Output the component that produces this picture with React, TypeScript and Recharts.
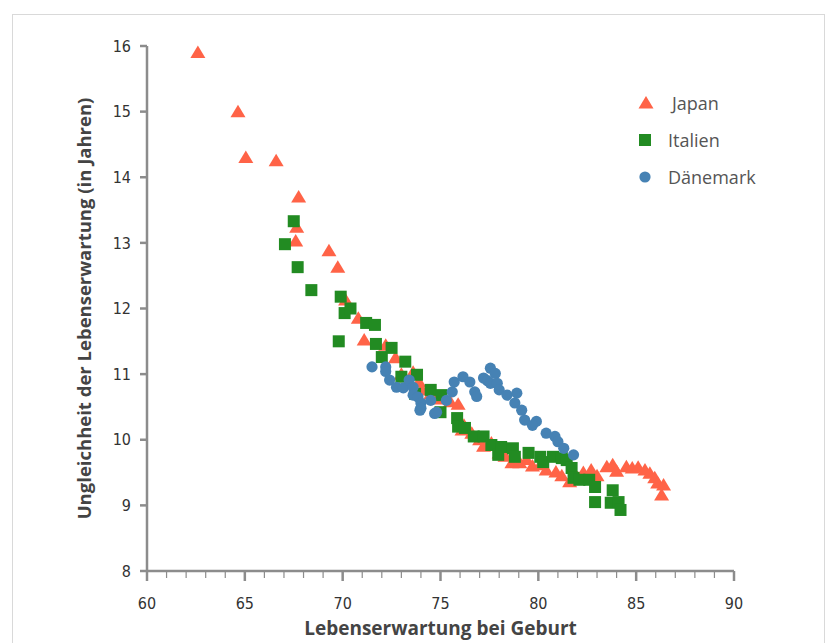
import React from "react";
import { ScatterChart, Scatter, XAxis, YAxis } from "recharts";

// Lebenserwartung (x) vs. Ungleichheit der Lebenserwartung (y)
const japan: [number, number][] = [
  [62.6, 15.9], [64.65, 15.0], [65.05, 14.3], [66.6, 14.25], [67.6, 13.03], [67.65, 13.24],
  [67.75, 13.7], [69.3, 12.88], [69.75, 12.63], [70.15, 12.13], [70.8, 11.85], [71.1, 11.52],
  [72.2, 11.44], [72.7, 11.25], [73.0, 11.0], [73.6, 11.03], [73.9, 10.88], [74.05, 10.76],
  [74.5, 10.7], [75.0, 10.62], [75.5, 10.58], [75.9, 10.54], [76.1, 10.15], [76.2, 10.22],
  [76.6, 10.1], [77.0, 10.0], [77.2, 9.9], [77.6, 9.95], [78.0, 9.8], [78.3, 9.75],
  [78.65, 9.65], [79.05, 9.65], [79.4, 9.7], [79.7, 9.6], [80.1, 9.62], [80.4, 9.54],
  [80.9, 9.51], [81.2, 9.45], [81.6, 9.36], [82.0, 9.42], [82.3, 9.5], [82.7, 9.54],
  [83.0, 9.45], [83.5, 9.59], [83.8, 9.62], [84.0, 9.52], [84.5, 9.59], [84.8, 9.57],
  [85.1, 9.58], [85.45, 9.54], [85.7, 9.49], [85.95, 9.42], [86.1, 9.34], [86.4, 9.31],
  [86.3, 9.16],
];

const italien: [number, number][] = [
  [67.05, 12.98], [67.5, 13.33], [67.7, 12.63], [68.4, 12.28], [69.8, 11.5], [69.9, 12.18],
  [70.1, 11.93], [70.4, 12.0], [71.2, 11.78], [71.65, 11.75], [71.7, 11.46], [72.0, 11.26],
  [72.5, 11.4], [73.0, 10.96], [73.2, 11.19], [73.7, 10.7], [73.8, 10.99], [74.5, 10.76],
  [75.05, 10.68], [75.0, 10.42], [75.85, 10.33], [75.9, 10.2], [76.25, 10.18], [76.7, 10.05],
  [77.2, 10.05], [77.6, 9.92], [77.95, 9.77], [78.1, 9.89], [78.7, 9.87], [78.8, 9.74],
  [79.5, 9.8], [80.1, 9.74], [80.25, 9.66], [80.75, 9.74], [81.2, 9.72], [81.45, 9.69],
  [81.7, 9.57], [81.8, 9.42], [82.1, 9.39], [82.6, 9.39], [82.9, 9.28], [82.9, 9.05],
  [83.7, 9.04], [83.8, 9.23], [84.1, 9.05], [84.2, 8.93],
];

const daenemark: [number, number][] = [
  [71.5, 11.11], [72.2, 11.11], [72.2, 11.04], [72.4, 10.91], [72.75, 10.8], [73.1, 10.79],
  [73.4, 10.91], [73.6, 10.8], [73.6, 10.68], [73.85, 10.65], [74.0, 10.56], [73.95, 10.45],
  [74.0, 10.48], [74.5, 10.6], [74.7, 10.4], [74.8, 10.42], [75.3, 10.6], [75.6, 10.73],
  [75.7, 10.88], [76.15, 10.96], [76.5, 10.88], [76.75, 10.73], [76.85, 10.66], [77.2, 10.94],
  [77.4, 10.9], [77.55, 11.09], [77.8, 11.01], [77.55, 10.86], [77.9, 10.86], [78.0, 10.76],
  [78.4, 10.68], [78.9, 10.71], [78.8, 10.56], [79.15, 10.45], [79.3, 10.3], [79.9, 10.28],
  [79.7, 10.22], [80.4, 10.1], [80.85, 10.05], [81.0, 9.97], [81.3, 9.87], [81.8, 9.77],
];

const xTicks = Array.from({ length: 31 }, (_, i) => 60 + i);
const yTicks = [8, 9, 10, 11, 12, 13, 14, 15, 16];

const COLORS = { japan: "#FF6347", italien: "#228B22", daenemark: "#4682B4" };
const AXIS = "#8c8c8c";
const TICK_FONT = "'DejaVu Sans Condensed', 'Liberation Sans Narrow', sans-serif";
const TITLE_FONT = "'Open Sans', 'Noto Sans', sans-serif";

const toPoints = (arr: [number, number][]) => arr.map(([x, y]) => ({ x, y }));

const Triangle = (p: any) => (
  <path
    d={`M${p.cx},${p.cy - 7}L${p.cx + 7.5},${p.cy + 5.5}L${p.cx - 7.5},${p.cy + 5.5}Z`}
    fill={COLORS.japan}
  />
);
const Square = (p: any) => <rect x={p.cx - 6} y={p.cy - 6} width={12} height={12} fill={COLORS.italien} />;
const Dot = (p: any) => <circle cx={p.cx} cy={p.cy} r={5.6} fill={COLORS.daenemark} />;

const XTick = (props: any) => {
  const { x, y, payload } = props;
  const major = payload.value % 5 === 0;
  return (
    <g>
      <line x1={x} x2={x} y1={y} y2={y + (major ? 10 : 7)} stroke={AXIS} strokeWidth={major ? 2.5 : 1.2} />
      {major ? (
        <text x={x} y={y + 38} textAnchor="middle" fontSize={16} fill="#333" fontFamily={TICK_FONT}>
          {payload.value}
        </text>
      ) : null}
    </g>
  );
};

function Legend() {
  const row = { display: "flex", alignItems: "center", height: 37 } as const;
  const text = { fontFamily: TITLE_FONT, fontSize: 18, color: "#555" };
  return (
    <div style={{ position: "absolute", left: 636, top: 84 }}>
      <div style={row}>
        <svg width={20} height={20} style={{ marginRight: 16 }}>
          <path d="M10,3L17.5,15.5L2.5,15.5Z" fill={COLORS.japan} />
        </svg>
        <span style={text}>Japan</span>
      </div>
      <div style={row}>
        <svg width={20} height={20} style={{ marginRight: 12 }}>
          <rect x={3} y={4} width={12} height={12} fill={COLORS.italien} />
        </svg>
        <span style={text}>Italien</span>
      </div>
      <div style={row}>
        <svg width={20} height={20} style={{ marginRight: 12 }}>
          <circle cx={9} cy={10} r={5.6} fill={COLORS.daenemark} />
        </svg>
        <span style={text}>Dänemark</span>
      </div>
    </div>
  );
}

export default function App() {
  return (
    <div style={{ position: "absolute", left: 0, top: 0, width: 828, height: 643, background: "#fff", overflow: "hidden" }}>
      <div
        style={{
          position: "absolute",
          left: 12,
          top: 14,
          width: 813,
          height: 640,
          border: "1px solid #d9d9d9",
          boxSizing: "border-box",
        }}
      />
      <ScatterChart width={828} height={643} margin={{ top: 46, right: 94, bottom: 0, left: 67 }}>
        <XAxis
          type="number"
          dataKey="x"
          domain={[60, 90]}
          ticks={xTicks}
          interval={0}
          tick={<XTick />}
          tickLine={false}
          tickSize={0}
          tickMargin={0}
          axisLine={{ stroke: AXIS, strokeWidth: 2.5 }}
          height={72}
          label={{
            value: "Lebenserwartung bei Geburt",
            position: "insideBottom",
            offset: 8,
            fill: "#444",
            fontSize: 19,
            fontWeight: 700,
            fontFamily: TITLE_FONT,
          }}
        />
        <YAxis
          type="number"
          dataKey="y"
          domain={[8, 16]}
          ticks={yTicks}
          interval={0}
          tickSize={7}
          tickMargin={9}
          tickLine={{ stroke: AXIS, strokeWidth: 2.5 }}
          axisLine={{ stroke: AXIS, strokeWidth: 2.5 }}
          tick={{ fill: "#333", fontSize: 16, fontFamily: TICK_FONT }}
          width={80}
          label={{
            value: "Ungleichheit der Lebenserwartung (in Jahren)",
            angle: -90,
            position: "insideLeft",
            offset: 17,
            style: { textAnchor: "middle" },
            fill: "#444",
            fontSize: 18.5,
            fontWeight: 700,
            fontFamily: TITLE_FONT,
          }}
        />
        <Scatter name="Japan" data={toPoints(japan)} shape={Triangle} isAnimationActive={false} />
        <Scatter name="Italien" data={toPoints(italien)} shape={Square} isAnimationActive={false} />
        <Scatter name="Dänemark" data={toPoints(daenemark)} shape={Dot} isAnimationActive={false} />
      </ScatterChart>
      <Legend />
    </div>
  );
}
